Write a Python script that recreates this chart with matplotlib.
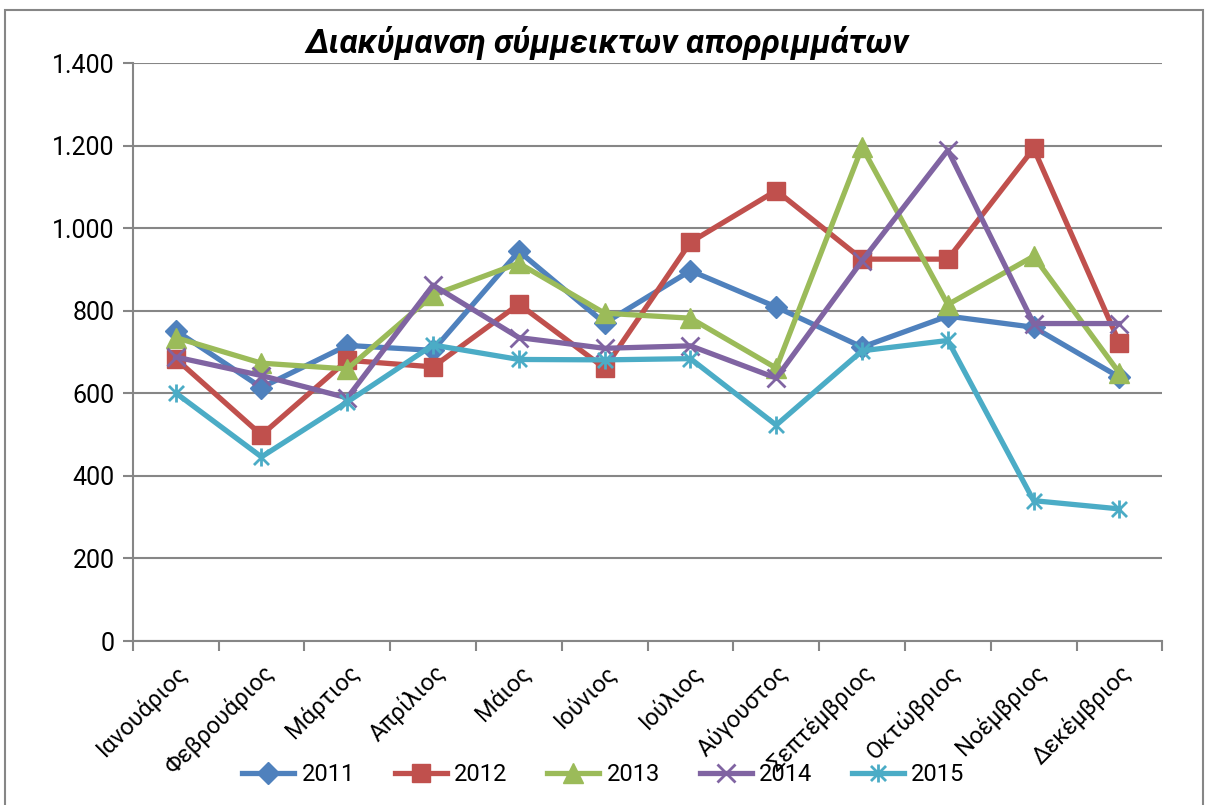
import numpy as np
import matplotlib
matplotlib.use("Agg")
import matplotlib.pyplot as plt
from matplotlib.path import Path
from matplotlib.patches import Rectangle
from matplotlib.ticker import FuncFormatter, FixedLocator

plt.rcParams['font.family'] = ['Roboto', 'DejaVu Sans']

months = ["Ιανουάριος", "Φεβρουάριος", "Μάρτιος", "Απρίλιος", "Μάιος", "Ιούνιος",
          "Ιούλιος", "Αύγουστος", "Σεπτέμβριος", "Οκτώβριος", "Νοέμβριος", "Δεκέμβριος"]

y2011 = [752, 614, 716, 704, 944, 770, 897, 809, 712, 787, 760, 639]
y2012 = [684, 499, 680, 664, 816, 661, 966, 1091, 925, 925, 1193, 722]
y2013 = [735, 673, 659, 838, 915, 794, 782, 661, 1196, 815, 932, 649]
y2014 = [688, 643, 589, 862, 735, 709, 715, 637, 921, 1189, 769, 769]
y2015 = [601, 446, 579, 717, 682, 681, 684, 523, 703, 728, 340, 320]

series = [("2011", y2011), ("2012", y2012), ("2013", y2013), ("2014", y2014), ("2015", y2015)]

# excel "star" marker: an x with a vertical bar
star = Path([(-1, -1), (1, 1), (-1, 1), (1, -1), (0, -1.2), (0, 1.2)],
            [Path.MOVETO, Path.LINETO, Path.MOVETO, Path.LINETO, Path.MOVETO, Path.LINETO])

styles = {
    "2011": dict(color="#4F81BD", marker="D", ms=11),
    "2012": dict(color="#C0504D", marker="s", ms=13),
    "2013": dict(color="#9BBB59", marker="^", ms=14),
    "2014": dict(color="#8064A2", marker="x", ms=13, mew=2),
    "2015": dict(color="#4BACC6", marker=star, ms=13, mew=2),
}

fig = plt.figure(figsize=(12.07, 8.05), dpi=100)
ax = fig.add_axes([0.110, 0.2037, 0.853, 0.718])

x = np.arange(len(months))
for name, vals in series:
    st = styles[name]
    ax.plot(x, vals, color=st["color"], lw=3.8, marker=st["marker"],
            markersize=st["ms"], markeredgewidth=st.get("mew", 1),
            markerfacecolor=st["color"], markeredgecolor=st["color"], label=name)

ax.set_xlim(-0.5, len(months) - 0.5)
ax.set_ylim(0, 1400)
ax.set_yticks(range(0, 1401, 200))
ax.yaxis.set_major_formatter(FuncFormatter(lambda v, p: f"{int(v):,}".replace(",", ".")))
ax.yaxis.grid(True, color="#868686", lw=1.5)
ax.set_axisbelow(True)

ax.set_xticks(x)
ax.set_xticklabels(months, rotation=45, ha="right", rotation_mode="anchor", fontsize=17)
ax.xaxis.set_minor_locator(FixedLocator(np.arange(-0.5, len(months), 1.0)))
ax.tick_params(axis="x", which="major", length=0, pad=14)
ax.tick_params(axis="x", which="minor", length=7, color="#868686", width=1.5)
ax.tick_params(axis="y", length=7, color="#868686", width=1.5, labelsize=18, pad=6)

for s in ["top", "right"]:
    ax.spines[s].set_visible(False)
for s in ["left", "bottom"]:
    ax.spines[s].set_color("#868686")
    ax.spines[s].set_linewidth(1.5)

# title sits a bit left of the plot centre, like the excel original
fig.text(0.503, 0.947, "Διακύμανση σύμμεικτων απορριμμάτων", fontsize=24,
         fontweight="bold", style="italic", ha="center", va="center")

fig.legend(loc="center", bbox_to_anchor=(0.5, 0.038), ncol=5, frameon=False,
           fontsize=17, handlelength=2.2, columnspacing=1.7, handletextpad=0.3)

fig.patches.append(Rectangle((0.004, -0.01), 0.993, 0.998, transform=fig.transFigure,
                             fill=False, edgecolor="#868686", lw=1.5))

fig.savefig("out.png", dpi=100)
